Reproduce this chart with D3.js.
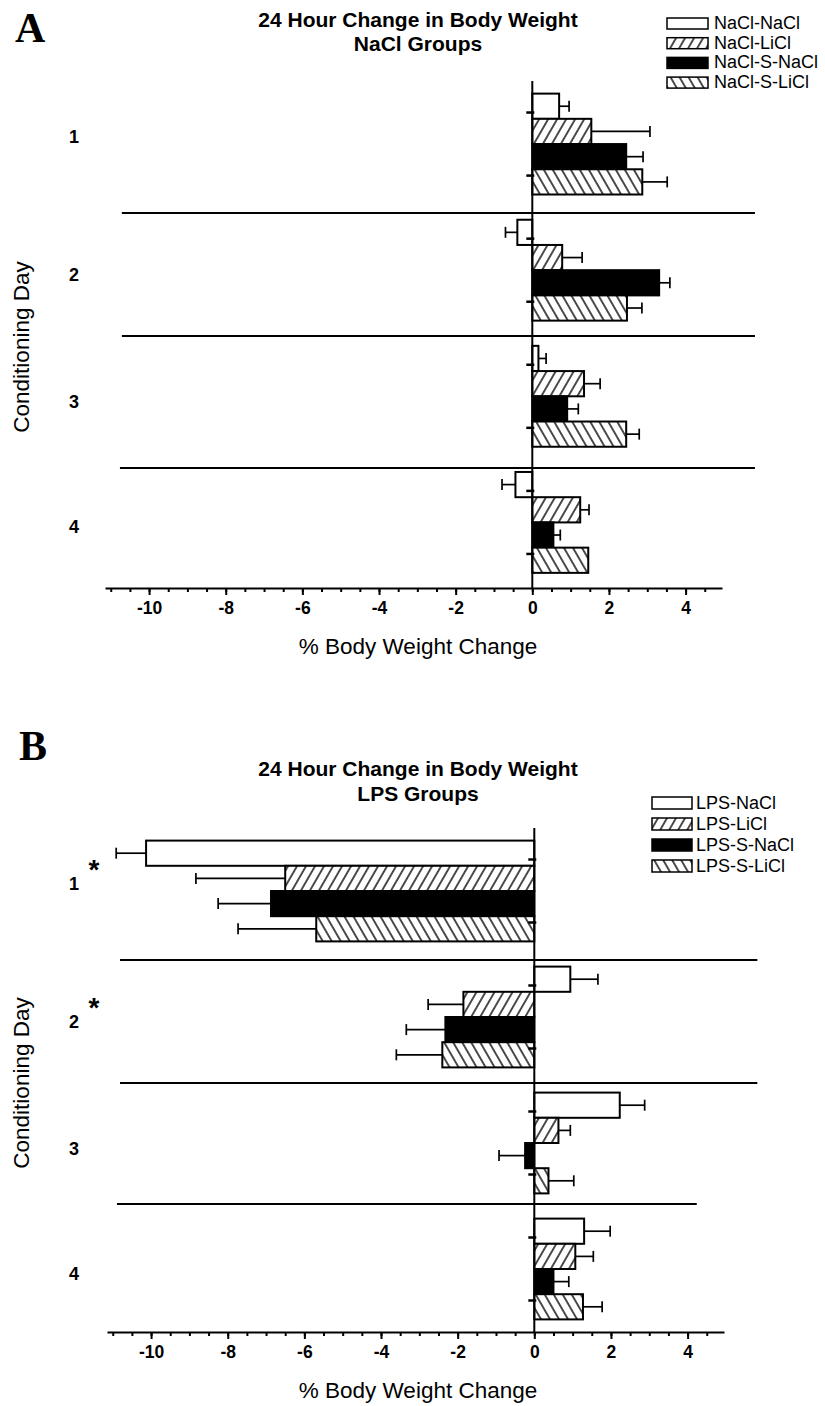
<!DOCTYPE html>
<html>
<head>
<meta charset="utf-8">
<script src="https://cdn.jsdelivr.net/npm/d3@7"></script>
<style>
  body { margin: 0; background: #fff; }
  svg { display: block; }
  text { font-family: "Liberation Sans", Arial, Helvetica, sans-serif; fill: #000; }
</style>
</head>
<body>
<svg id="chart" width="825" height="1406"></svg>
<script>
// Conditioning days (category axis)
const days = [1, 2, 3, 4];
const dayLabels = ["1", "2", "3", "4"];

// Panel A: NaCl groups — mean % body weight change per day, and SEM
const naclGroups = ["NaCl-NaCl", "NaCl-LiCl", "NaCl-S-NaCl", "NaCl-S-LiCl"];
const naclNaClMean  = [0.70, -0.39, 0.16, -0.44];
const naclLiClMean  = [1.54, 0.78, 1.35, 1.25];
const naclSNaClMean = [2.45, 3.31, 0.91, 0.55];
const naclSLiClMean = [2.87, 2.47, 2.45, 1.46];
const naclNaClSem   = [0.26, 0.31, 0.20, 0.35];
const naclLiClSem   = [1.53, 0.52, 0.42, 0.23];
const naclSNaClSem  = [0.44, 0.28, 0.29, 0.18];
const naclSLiClSem  = [0.65, 0.39, 0.34, 0];

// Panel B: LPS groups
const lpsGroups = ["LPS-NaCl", "LPS-LiCl", "LPS-S-NaCl", "LPS-S-LiCl"];
const lpsNaClMean  = [-10.13, 0.94, 2.23, 1.30];
const lpsLiClMean  = [-6.50, -1.85, 0.63, 1.07];
const lpsSNaClMean = [-6.87, -2.32, -0.24, 0.50];
const lpsSLiClMean = [-5.69, -2.40, 0.37, 1.27];
const lpsNaClSem   = [0.78, 0.72, 0.65, 0.68];
const lpsLiClSem   = [2.33, 0.92, 0.31, 0.47];
const lpsSNaClSem  = [1.38, 1.02, 0.68, 0.40];
const lpsSLiClSem  = [2.04, 1.20, 0.66, 0.50];
const lpsStarredDays = [1, 2];

// Axis ticks
const xMajorTicks = [-10, -8, -6, -4, -2, 0, 2, 4];
const xMinorTicks = d3.range(-11, 4.75, 0.5);
const xDomain = [-11.15, 4.95];

const svg = d3.select("#chart");

// Fill patterns: forward hatch (////) and back hatch (\\\\)
const defs = svg.append("defs");
[["fwd", 30], ["bwd", -30]].forEach(([id, ang]) => {
  const p = defs.append("pattern")
    .attr("id", id)
    .attr("patternUnits", "userSpaceOnUse")
    .attr("width", 7.8).attr("height", 10)
    .attr("patternTransform", `rotate(${ang})`);
  p.append("rect").attr("width", 7.8).attr("height", 10).attr("fill", "#fff");
  p.append("line").attr("x1", 3.9).attr("x2", 3.9).attr("y1", -1).attr("y2", 11)
    .attr("stroke", "#000").attr("stroke-width", 1.4);
});
const fills = ["#fff", "url(#fwd)", "#000", "url(#bwd)"];

const panels = [
  {
    letter: "A", letterX: 15, letterY: 42,
    title: ["24 Hour Change in Body Weight", "NaCl Groups"], titleY: [27, 51],
    groups: naclGroups,
    means: [naclNaClMean, naclLiClMean, naclSNaClMean, naclSLiClMean],
    sems: [naclNaClSem, naclLiClSem, naclSNaClSem, naclSLiClSem],
    starred: [],
    top: 81, axisY: 588, yMax: 4.52, xRange: [105, 722],
    dividers: [[1.547, -10.71, 5.81], [2.522, -10.71, 5.81], [3.569, -10.76, 5.81]],
    yTitleCenter: 347,
    legend: { x: 667, y: 18, w: 41, h: 11, step: 19.7, tx: 714 }
  },
  {
    letter: "B", letterX: 19, letterY: 760,
    title: ["24 Hour Change in Body Weight", "LPS Groups"], titleY: [776, 801],
    groups: lpsGroups,
    means: [lpsNaClMean, lpsLiClMean, lpsSNaClMean, lpsSLiClMean],
    sems: [lpsNaClSem, lpsLiClSem, lpsSNaClSem, lpsSLiClSem],
    starred: lpsStarredDays,
    top: 828, axisY: 1332, yMax: 4.5, xRange: [107, 724],
    dividers: [[1.547, -10.81, 5.82], [2.524, -10.81, 5.82], [3.484, -10.89, 4.24]],
    yTitleCenter: 1083,
    legend: { x: 652, y: 797, w: 40, h: 12, step: 21, tx: 696 }
  }
];

const labelNudge = [-8, 4, 5, 4];

panels.forEach(p => {
  const g = svg.append("g");
  const x = d3.scaleLinear().domain(xDomain).range(p.xRange);
  const y = d3.scaleLinear().domain([0.5, p.yMax]).range([p.top, p.axisY]);
  const inner = d3.scaleBand().domain(p.groups).range([-0.4, 0.4]);
  const bw = inner.bandwidth();

  // Panel letter and title
  g.append("text").attr("x", p.letterX).attr("y", p.letterY)
    .style("font-family", '"Liberation Serif", "Times New Roman", serif')
    .style("font-weight", "bold").style("font-size", "42px").text(p.letter);
  p.title.forEach((t, i) => {
    g.append("text").attr("x", 418).attr("y", p.titleY[i])
      .attr("text-anchor", "middle")
      .style("font-weight", "bold").style("font-size", "21px").text(t);
  });

  // Legend
  p.groups.forEach((name, i) => {
    const ly = p.legend.y + i * p.legend.step;
    g.append("rect").attr("x", p.legend.x).attr("y", ly)
      .attr("width", p.legend.w).attr("height", p.legend.h)
      .attr("fill", fills[i]).attr("stroke", "#000").attr("stroke-width", 1.5);
    g.append("text").attr("x", p.legend.tx).attr("y", ly + p.legend.h)
      .style("font-size", "18px").text(name);
  });

  // Day separators
  p.dividers.forEach(([at, x0, x1]) => {
    g.append("line").attr("x1", x(x0)).attr("x2", x(x1))
      .attr("y1", y(at)).attr("y2", y(at))
      .attr("stroke", "#000").attr("stroke-width", 2);
  });

  // Bars
  const bars = [];
  p.groups.forEach((name, gi) => {
    days.forEach((d, di) => {
      bars.push({ gi, name, d, v: p.means[gi][di], se: p.sems[gi][di] });
    });
  });
  g.append("g").selectAll("rect").data(bars).join("rect")
    .attr("x", b => x(Math.min(0, b.v)))
    .attr("width", b => Math.abs(x(b.v) - x(0)))
    .attr("y", b => y(b.d + inner(b.name)))
    .attr("height", b => y(b.d + inner(b.name) + bw) - y(b.d + inner(b.name)))
    .attr("fill", b => fills[b.gi])
    .attr("stroke", "#000").attr("stroke-width", 2);

  // Error bars (extend away from zero)
  const eg = g.append("g").attr("stroke", "#000").attr("stroke-width", 1.7);
  bars.filter(b => b.se > 0).forEach(b => {
    const yc = y(b.d + inner(b.name) + bw / 2);
    const end = b.v + (b.v < 0 ? -b.se : b.se);
    eg.append("line").attr("x1", x(b.v)).attr("x2", x(end)).attr("y1", yc).attr("y2", yc);
    eg.append("line").attr("x1", x(end)).attr("x2", x(end)).attr("y1", yc - 5.5).attr("y2", yc + 5.5);
  });

  // Zero line with its small ticks
  g.append("line").attr("x1", x(0)).attr("x2", x(0))
    .attr("y1", y(0.5)).attr("y2", p.axisY)
    .attr("stroke", "#000").attr("stroke-width", 2);
  d3.range(0.75, 4.5, 0.5).forEach(t => {
    g.append("line").attr("x1", x(0) - 6).attr("x2", x(0) + 2)
      .attr("y1", y(t)).attr("y2", y(t))
      .attr("stroke", "#000").attr("stroke-width", 2.5);
  });

  // Category labels
  days.forEach((d, i) => {
    g.append("text").attr("x", 74).attr("y", y(d) + labelNudge[i] + 6.5)
      .attr("text-anchor", "middle")
      .style("font-weight", "bold").style("font-size", "18px").text(dayLabels[i]);
    if (p.starred.includes(d)) {
      g.append("text").attr("x", 94).attr("y", y(d) + labelNudge[i] - 4)
        .attr("text-anchor", "middle")
        .style("font-weight", "bold").style("font-size", "28px").text("*");
    }
  });

  // Y axis title
  g.append("text")
    .attr("transform", `translate(29,${p.yTitleCenter}) rotate(-90)`)
    .attr("text-anchor", "middle")
    .style("font-size", "22.5px").text("Conditioning Day");

  // X axis: minor ticks, then major ticks with labels
  const ax = g.append("g").attr("transform", `translate(0,${p.axisY})`);
  ax.append("g")
    .call(d3.axisBottom(x).tickValues(xMinorTicks).tickSize(4).tickSizeOuter(0).tickFormat(""))
    .call(s => s.select(".domain").remove())
    .call(s => s.selectAll(".tick line").attr("stroke-width", 2));
  ax.append("g")
    .call(d3.axisBottom(x).tickValues(xMajorTicks).tickSize(7).tickSizeOuter(0)
      .tickPadding(7).tickFormat(d => String(d)))
    .call(s => s.select(".domain").attr("stroke-width", 2))
    .call(s => s.selectAll(".tick line").attr("stroke-width", 2))
    .call(s => s.selectAll(".tick text")
      .style("font-family", '"Liberation Sans", Arial, sans-serif')
      .style("font-weight", "bold").style("font-size", "17.5px"));

  g.append("text").attr("x", 418).attr("y", p.axisY + 66)
    .attr("text-anchor", "middle")
    .style("font-size", "22.5px").text("% Body Weight Change");
});
</script>
</body>
</html>
